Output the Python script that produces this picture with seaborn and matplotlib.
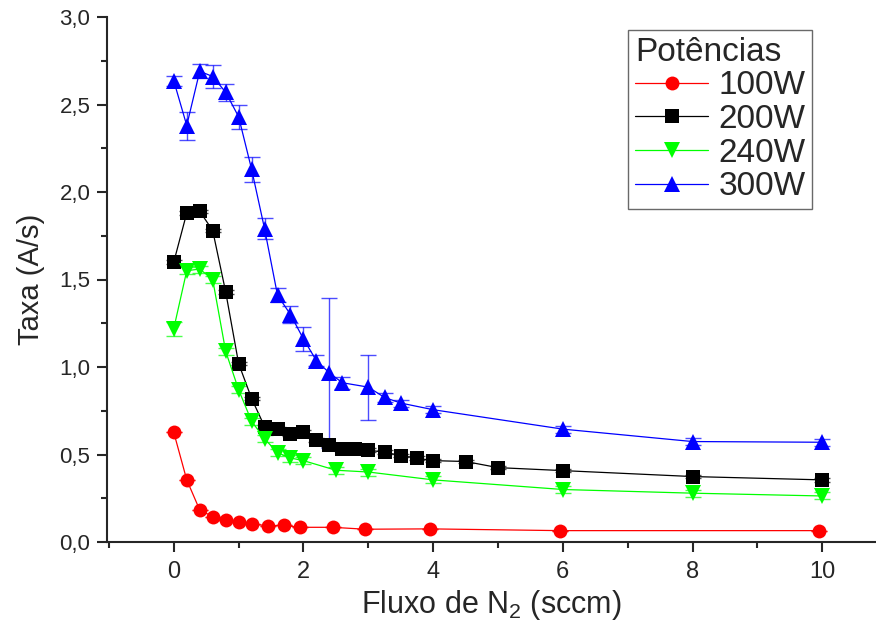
import matplotlib
matplotlib.use("Agg")
import matplotlib.pyplot as plt
import matplotlib.ticker as mticker
import numpy as np
import pandas as pd
import seaborn as sns

# --- données ---
x_100 = [0, 0.2, 0.4, 0.6, 0.8, 1.0, 1.2, 1.45, 1.7, 1.95, 2.45, 2.95, 3.95, 5.95, 9.95]
y_100 = [0.626, 0.355, 0.183, 0.145, 0.126, 0.114, 0.103, 0.093, 0.095, 0.084, 0.084, 0.073, 0.075, 0.065, 0.065]
e_100 = [0.0] * len(x_100)

x_200 = [0, 0.2, 0.4, 0.6, 0.8, 1.0, 1.2, 1.4, 1.6, 1.8, 2.0, 2.2, 2.4, 2.6, 2.8, 3.0,
         3.25, 3.5, 3.75, 4.0, 4.5, 5.0, 6, 8, 10]
y_200 = [1.60, 1.88, 1.89, 1.78, 1.43, 1.02, 0.82, 0.66, 0.645, 0.617, 0.63, 0.584, 0.555,
         0.53, 0.53, 0.525, 0.513, 0.494, 0.479, 0.465, 0.46, 0.425, 0.408, 0.374, 0.355]
e_200 = [0.01] * len(x_200)

x_240 = [0, 0.2, 0.4, 0.6, 0.8, 1.0, 1.2, 1.4, 1.6, 1.8, 2.0, 2.5, 3.0, 4, 6, 8, 10]
y_240 = [1.22, 1.55, 1.56, 1.50, 1.09, 0.87, 0.69, 0.59, 0.51, 0.48, 0.465, 0.41, 0.40,
         0.355, 0.30, 0.279, 0.263]
e_240 = [0.04, 0.02, 0.02, 0.02, 0.02, 0.02, 0.02, 0.02, 0.02, 0.02, 0.02, 0.02, 0.02,
         0.02, 0.02, 0.02, 0.02]

x_300 = [0, 0.2, 0.4, 0.6, 0.8, 1.0, 1.2, 1.4, 1.6, 1.8, 2.0, 2.2, 2.4, 2.6, 3.0, 3.25,
         3.5, 4, 6, 8, 10]
y_300 = [2.635, 2.38, 2.69, 2.66, 2.57, 2.43, 2.13, 1.79, 1.41, 1.30, 1.16, 1.036, 0.966,
         0.91, 0.885, 0.826, 0.794, 0.756, 0.645, 0.574, 0.57]
e_300 = [0.03, 0.08, 0.04, 0.065, 0.05, 0.07, 0.07, 0.06, 0.04, 0.05, 0.07, 0.03, 0.43,
         0.035, 0.185, 0.025, 0.02, 0.02, 0.02, 0.02, 0.02]

series = [
    ("100W", x_100, y_100, e_100, "#ff0000", "o", 10),
    ("200W", x_200, y_200, e_200, "#000000", "s", 9.5),
    ("240W", x_240, y_240, e_240, "#00ff00", "v", 12),
    ("300W", x_300, y_300, e_300, "#0000ff", "^", 12),
]

sns.set_style("ticks")
plt.rcParams['font.family'] = ['Liberation Sans', 'DejaVu Sans']
plt.rcParams['mathtext.default'] = 'regular'

fig = plt.figure(figsize=(8.76, 6.26), dpi=100)
ax = fig.add_axes([107 / 876, 84 / 626, 769 / 876, 525 / 626])

for nom, xs, ys, es, couleur, marqueur, taille in series:
    # barres d'erreur d'abord, en dessous des marqueurs
    ax.errorbar(xs, ys, yerr=es, fmt='none', ecolor=couleur, alpha=0.7,
                elinewidth=1, capsize=6, capthick=1, zorder=2)
    sns.lineplot(x=xs, y=ys, ax=ax, color=couleur, marker=marqueur,
                 markersize=taille, markeredgewidth=0, linewidth=0.9,
                 label=nom, sort=False, zorder=3)

ax.set_xlim(-1.03, 10.83)
ax.set_ylim(0, 3.0)
ax.xaxis.set_major_locator(mticker.MultipleLocator(2))
ax.xaxis.set_minor_locator(mticker.MultipleLocator(1))
ax.yaxis.set_major_locator(mticker.MultipleLocator(0.5))
ax.yaxis.set_minor_locator(mticker.MultipleLocator(0.25))
# virgule décimale
ax.yaxis.set_major_formatter(mticker.FuncFormatter(lambda v, p: f"{v:.1f}".replace('.', ',')))

sns.despine(ax=ax)
for s in ['left', 'bottom']:
    ax.spines[s].set_linewidth(1.5)
ax.tick_params(which='major', length=7, width=1.5, direction='out')
ax.tick_params(which='minor', length=4, width=1.5, direction='out')
ax.tick_params(axis='y', labelsize=16, pad=5)
ax.tick_params(axis='x', labelsize=17, pad=7)

ax.set_xlabel("Fluxo de N$_{2}$ (sccm)", fontsize=22, labelpad=3)
ax.set_ylabel("Taxa (A/s)", fontsize=21, labelpad=10)

leg = ax.legend(title="Potências", loc='upper right', bbox_to_anchor=(0.917, 0.975),
                fontsize=24, title_fontsize=24, frameon=True, fancybox=False,
                handlelength=2.2, handletextpad=0.3, borderpad=0.2,
                labelspacing=0.08, borderaxespad=0)
leg.get_frame().set_edgecolor('#444444')
leg.get_frame().set_linewidth(1.0)
leg._legend_box.align = "left"

fig.savefig("out.png", dpi=100)
